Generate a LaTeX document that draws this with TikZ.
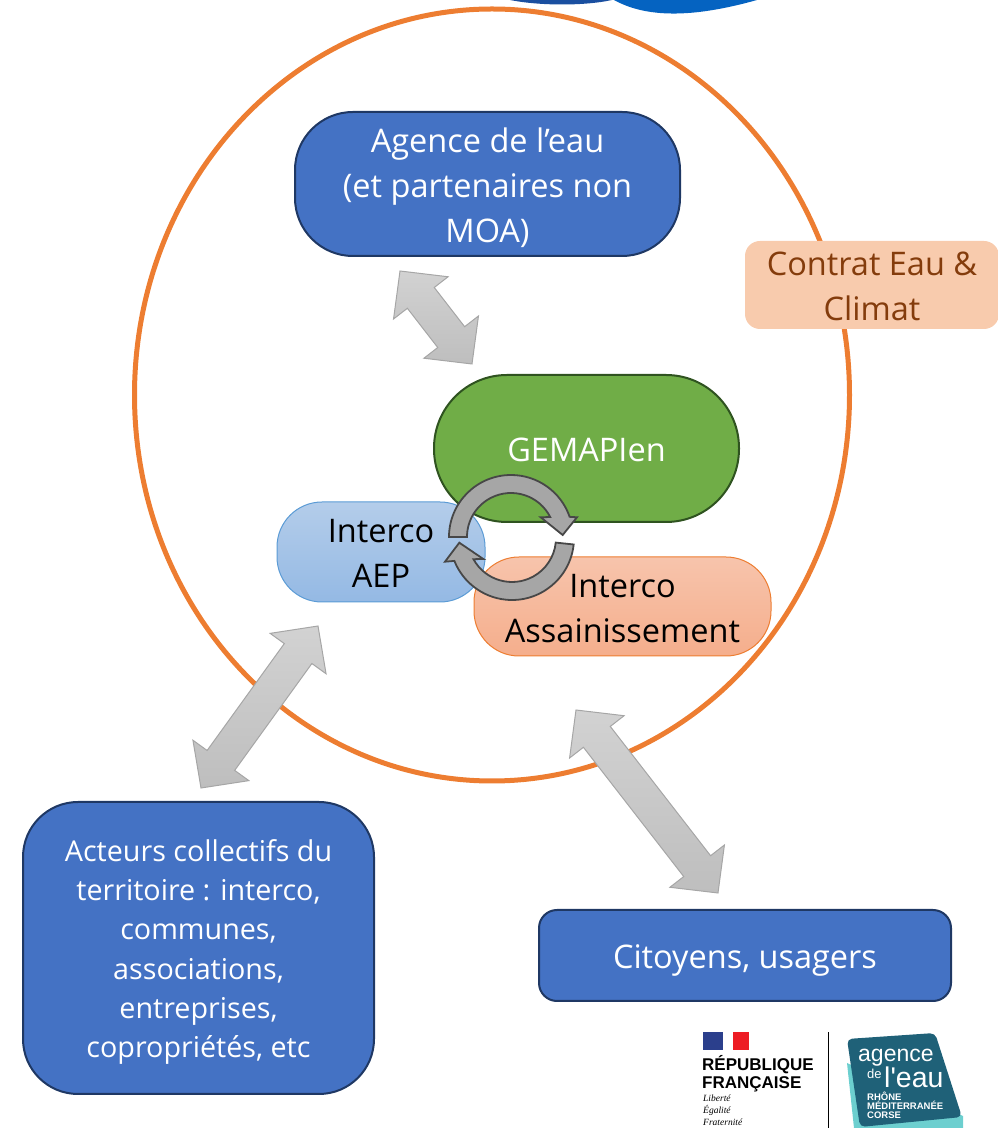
\documentclass[tikz,border=0pt]{standalone}
\usepackage{fontspec}
\setmainfont{Open Sans}
\newfontfamily\logosans{Liberation Sans}
\newfontfamily\logoserif{Liberation Serif}
\usetikzlibrary{calc,shapes.geometric}
\definecolor{bluefill}{HTML}{4472C4}
\definecolor{blueedge}{HTML}{1F3864}
\definecolor{greenfill}{HTML}{70AD47}
\definecolor{greenedge}{HTML}{2F5320}
\definecolor{ringorange}{HTML}{ED7D31}
\definecolor{contratfill}{HTML}{F8CBAD}
\definecolor{contrattext}{HTML}{843C0C}
\definecolor{arrowtop}{HTML}{D2D2D2}
\definecolor{arrowbottom}{HTML}{BEBEBE}
\definecolor{arrowedge}{HTML}{A6A6A6}
\definecolor{logoteal}{HTML}{1F6178}
\definecolor{logocyan}{HTML}{6CCFCF}
\definecolor{aeptop}{HTML}{B4CDEA}
\definecolor{aepbottom}{HTML}{94B9E4}
\definecolor{aepedge}{HTML}{5B9BD5}
\definecolor{assaintop}{HTML}{F7C4AC}
\definecolor{assainbottom}{HTML}{F5AE8C}
\definecolor{logodark}{HTML}{1A4FA0}
\definecolor{logobright}{HTML}{0563C1}
\definecolor{flagblue}{HTML}{2B3F8C}
\definecolor{flagred}{HTML}{ED1C24}
\tikzset{
    bluebox/.style={draw=blueedge, line width=2pt, fill=bluefill, text=white, align=center},
    bodytext/.style={font=\fontsize{32.5}{45}\selectfont},
    smalltext/.style={font=\fontsize{28.7}{39.2}\selectfont},
    textdown/.style={execute at begin node={\rule{0pt}{#1}}},
    biarrow/.style={
        draw=arrowedge, line width=1pt, top color=arrowtop, bottom color=arrowbottom,
        to path={
            -- ($(\tikztostart)!34pt!(\tikztotarget)!34.5pt!90:(\tikztotarget)$)
            -- ($(\tikztostart)!34pt!(\tikztotarget)!17pt!90:(\tikztotarget)$)
            -- ($(\tikztotarget)!34pt!(\tikztostart)!17pt!-90:(\tikztostart)$)
            -- ($(\tikztotarget)!34pt!(\tikztostart)!34.5pt!-90:(\tikztostart)$)
            -- (\tikztotarget)
            -- ($(\tikztotarget)!34pt!(\tikztostart)!34.5pt!90:(\tikztostart)$)
            -- ($(\tikztotarget)!34pt!(\tikztostart)!17pt!90:(\tikztostart)$)
            -- ($(\tikztostart)!34pt!(\tikztotarget)!17pt!-90:(\tikztotarget)$)
            -- ($(\tikztostart)!34pt!(\tikztotarget)!34.5pt!-90:(\tikztotarget)$)
            -- cycle}},
    cyclearrow/.style={draw=black!72, line width=1.8pt, fill=black!35, line join=miter},
    logotext/.style={text=white, inner sep=0pt, anchor=base west}
}
\begin{document}
\begin{tikzpicture}[x=1pt,y=1pt]
    \useasboundingbox (0,0) rectangle (998,1128);

    % logo cropped at the top
    \fill[logodark] (510,1128) .. controls (540,1122) and (585,1122) .. (612,1128) -- cycle;
    \fill[logobright] (614,1128) .. controls (650,1108) and (700,1112) .. (757,1128) -- cycle;

    \node[draw=ringorange, line width=5pt, ellipse, minimum width=715pt, minimum height=772pt, inner sep=0pt] (ring) at (492,733) {};
    \node[fill=contratfill, text=contrattext, rounded corners=15pt, minimum width=254pt, minimum height=88pt, align=center, bodytext, textdown=72pt, inner sep=0pt] (contrat) at (872,843) {Contrat Eau \&\\Climat};

    \node[bluebox, bodytext, textdown=123pt, rounded corners=58pt, minimum width=385pt, minimum height=144pt, inner sep=0pt] (agence) at (487.5,944) {Agence de l’eau\\(et partenaires non\\MOA)};
    \node[draw=greenedge, line width=2pt, fill=greenfill, text=white, bodytext, textdown=27pt, rounded corners=73pt, minimum width=305pt, minimum height=147pt] (gemapi) at (586.5,679.5) {GEMAPIen};
    \node[draw=ringorange, line width=1pt, top color=assaintop, bottom color=assainbottom, bodytext, textdown=73pt, align=center, text=black, rounded corners=45pt, minimum width=297pt, minimum height=99pt, inner sep=0pt] (assain) at (622.5,521.5) {Interco\\Assainissement};
    \node[draw=aepedge, line width=1pt, top color=aeptop, bottom color=aepbottom, bodytext, textdown=71pt, align=center, text=black, rounded corners=45pt, minimum width=208pt, minimum height=100pt, inner sep=0pt] (aep) at (381,576) {Interco\\AEP};

    \node[bluebox, smalltext, textdown=226pt, rounded corners=55pt, minimum width=351pt, minimum height=292pt, inner sep=0pt] (acteurs) at (198.5,180) {Acteurs collectifs du\\territoire : interco,\\communes,\\associations,\\entreprises,\\copropriétés, etc};
    \node[bluebox, bodytext, textdown=34pt, rounded corners=18pt, minimum width=412pt, minimum height=91pt, inner sep=0pt] (citoyens) at (745,172.5) {Citoyens, usagers};

    \coordinate (agenceEnd) at (400,857);
    \coordinate (gemapiEnd) at (472,764);
    \coordinate (ringLeft) at (318,502);
    \coordinate (acteursEnd) at (201,340);
    \coordinate (ringRight) at (576,418);
    \coordinate (citoyensEnd) at (718,235);
    \draw[biarrow] (agenceEnd) to (gemapiEnd);
    \draw[biarrow] (ringLeft) to (acteursEnd);
    \draw[biarrow] (ringRight) to (citoyensEnd);

    % circular arrows
    \coordinate (cycleTop) at (511,591);
    \coordinate (cycleLow) at (512,590);
    \draw[cyclearrow] ([shift={(180:62)}]cycleTop) arc[start angle=180, end angle=19, radius=62]
        -- (577,610.7) -- (562.7,593) -- (540.7,610.7)
        -- ([shift={(27:44)}]cycleTop) arc[start angle=27, end angle=180, radius=44] -- cycle;
    \draw[cyclearrow] ([shift={(-6:62)}]cycleLow) arc[start angle=-6, end angle=-158.3, radius=62]
        -- (445,566.3) -- (459.3,585.3) -- (483.3,569)
        -- ([shift={(-151.2:44)}]cycleLow) arc[start angle=-151.2, end angle=-6, radius=44] -- cycle;

    % logos
    \fill[flagblue] (702.5,78) rectangle (723,95.5);
    \fill[flagred] (733,78) rectangle (749,95.5);
    \node[anchor=north west, inner sep=0pt, align=left, font=\logosans\bfseries\fontsize{17}{18}\selectfont] (republique) at (702,73) {RÉPUBLIQUE\\FRANÇAISE};
    \node[anchor=north west, inner sep=0pt, align=left, font=\logoserif\itshape\fontsize{9.5}{12}\selectfont] (devise) at (703,33) {Liberté\\Égalité\\Fraternité};
    \draw[line width=1pt] (828,0) -- (828,96);

    \fill[logocyan] (847,65) -- (854,0) -- (963,0) -- (963,12) -- cycle;
    \fill[logoteal, rounded corners=5pt] (847,89) -- (935,95) -- (962,11) -- (860,1) -- cycle;
    \node[logotext, font=\logosans\fontsize{23}{23}\selectfont] (agencelogo) at (858,66.5) {agence};
    \node[logotext, font=\logosans\fontsize{13}{13}\selectfont] (delogo) at (867,49) {de};
    \node[logotext, font=\logosans\fontsize{28.5}{29}\selectfont] (eaulogo) at (884,40.5) {l'eau};
    \node[logotext, font=\logosans\bfseries\fontsize{9.5}{9}\selectfont, align=left, anchor=north west] (bassin) at (867,36) {RHÔNE\\MÉDITERRANÉE\\CORSE};
\end{tikzpicture}
\end{document}
